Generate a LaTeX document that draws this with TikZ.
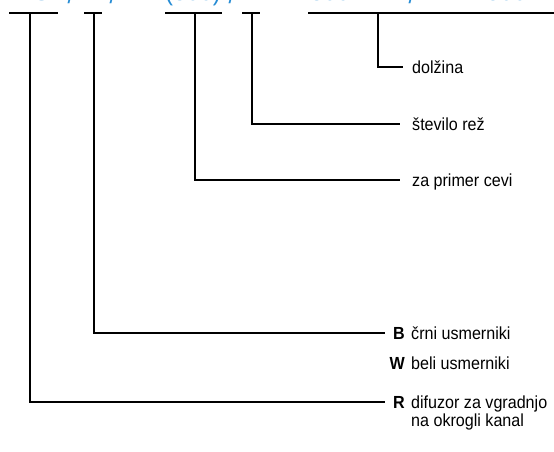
\documentclass[tikz,border=0pt]{standalone}
\usepackage{fontspec}
\setmainfont{Liberation Sans}[FakeStretch=0.92]
\definecolor{codeblue}{RGB}{38,140,212}
\begin{document}
\begin{tikzpicture}[x=1pt,y=-1pt,
  leg/.style={line width=1.1pt},
  code/.style={anchor=base, inner sep=0pt, text=codeblue, font=\fontsize{26}{26}\selectfont},
  key/.style={anchor=base east, inner sep=0pt, text height=12pt, text depth=0pt, font=\fontsize{17.5}{18}\selectfont\bfseries},
  desc/.style={anchor=base west, inner sep=0pt, text height=12pt, text depth=0pt, font=\fontsize{17.5}{18}\selectfont},
  desclong/.style={anchor=base west, inner sep=0pt, align=left, font=\fontsize{17.5}{18}\selectfont}]
\useasboundingbox (0,0) rectangle (554,451);
\clip (0,0) rectangle (554,451);

% type code (cut off at the top)
\node[code] (cType) at (33,0.6) {DS};
\node[code] (s1) at (71,3.5) {/};
\node[code] (cColour) at (93,0.6) {B};
\node[code] (s2) at (113,3.5) {/};
\node[code] (cPipe) at (193,0.6) {(300)};
\node[code] (s3) at (232,3.5) {/};
\node[code] (cSlots) at (251,0.6) {2};
\node[code] (cLenA) at (330,0.6) {300};
\node[code] (s4) at (412,3.5) {/};
\node[code] (cLenB) at (500,0.6) {1500};

% bars under the code
\draw[leg] (9,13) -- (58,13);
\draw[leg] (84,13) -- (102,13);
\draw[leg] (165,13) -- (222,13);
\draw[leg] (242,13) -- (260,13);
\draw[leg] (308,13) -- (560,13);
\coordinate (t1) at (30,13);
\coordinate (t2) at (94,13);
\coordinate (t3) at (195,13);
\coordinate (t4) at (252,13);
\coordinate (t5) at (378,13);

% legend
\node[desc] (dolzina) at (412,73) {dolžina};
\node[desc] (reze) at (412,130) {število rež};
\node[desc] (cevi) at (412,186) {za primer cevi};
\node[key] (B) at (405,339) {B};
\node[desc] (Btxt) at (411,339) {črni usmerniki};
\node[key] (W) at (405,369) {W};
\node[desc] (Wtxt) at (411,369) {beli usmerniki};
\node[key] (R) at (405,408) {R};
\node[desclong] (Rtxt) at (411,426) {difuzor za vgradnjo\\na okrogli kanal};

% leaders
\draw[leg] (t5) |- ([xshift=-9pt]dolzina.west);
\draw[leg] (t4) |- ([xshift=-12pt]reze.west);
\draw[leg] (t3) |- ([xshift=-12pt]cevi.west);
\draw[leg] (t2) |- ([xshift=-8.4pt]B.west);
\draw[leg] (t1) |- ([xshift=-8.4pt]R.west);
\end{tikzpicture}
\end{document}
